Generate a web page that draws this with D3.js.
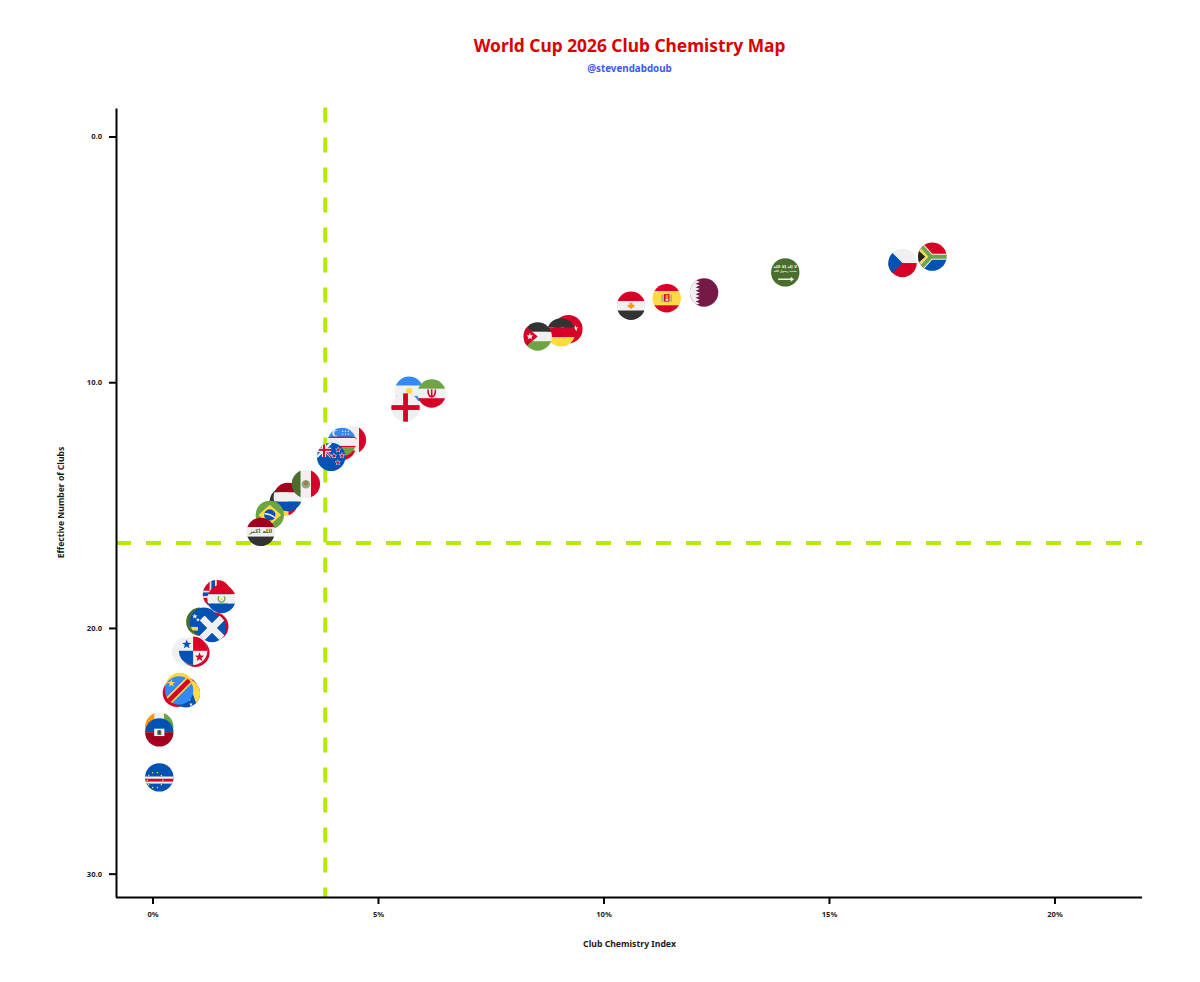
<!DOCTYPE html>
<html>
<head>
<meta charset="utf-8">
<title>World Cup 2026 Club Chemistry Map</title>
<script src="https://cdn.jsdelivr.net/npm/d3@7"></script>
<style>
  html, body { margin: 0; padding: 0; background: #fff; }
  svg { display: block; font-family: "Noto Sans", sans-serif; }
</style>
</head>
<body>
<svg id="chart" width="1200" height="982"></svg>
<script>
// Teams in drawing order: later entries sit on top of earlier ones.
const teams = ["Cape Verde","Ivory Coast","Haiti","Morocco","Ghana","Colombia","Bosnia","DR Congo",
  "South Korea","Switzerland","Panama","Tunisia","Algeria","Curacao","Scotland","Norway","Paraguay",
  "Belgium","Netherlands","Brazil","Iraq","Mexico","Canada","Austria","Uzbekistan","New Zealand",
  "Argentina","Iran","England","Turkey","Germany","Jordan","Egypt","Spain","Qatar","Saudi Arabia",
  "Czechia","South Africa"];
const chemistryIndex = [0.14,0.14,0.14,0.53,0.69,0.59,0.73,0.58,
  0.74,0.94,0.89,1.36,1.05,1.13,1.31,1.42,1.52,
  2.90,2.99,2.59,2.39,3.39,4.41,4.19,4.19,3.95,
  5.68,6.18,5.60,9.21,9.05,8.53,10.60,11.39,12.22,14.02,
  16.62,17.28];
const effectiveClubs = [26.08,24.02,24.25,22.64,22.56,22.40,22.66,22.54,
  20.97,21.01,20.93,19.94,19.75,19.75,20.00,18.63,18.82,
  14.87,14.67,15.40,16.09,14.14,12.35,12.59,12.43,13.04,
  10.35,10.46,11.03,7.84,7.97,8.14,6.89,6.58,6.35,5.53,
  5.15,4.89];
const xTicks = [0,5,10,15,20];
const yTicks = [0,10,20,30];
const medianChemistry = 3.82;
const medianClubs = 16.54;

const W = { left: 116, right: 1142, top: 108, bottom: 897 };
const svg = d3.select("#chart");

const x = d3.scaleLinear().domain([-0.82, 21.93]).range([W.left, W.right]);
const y = d3.scaleLinear().domain([-1.16, 30.95]).range([W.top, W.bottom]);

// Title block
svg.append("text").attr("x", 629.5).attr("y", 52).attr("text-anchor", "middle")
  .attr("font-size", 17.35).attr("font-weight", 700).attr("fill", "#d90000")
  .text("World Cup 2026 Club Chemistry Map");
svg.append("text").attr("x", 629.5).attr("y", 72).attr("text-anchor", "middle")
  .attr("font-size", 9.8).attr("font-weight", 700).attr("fill", "#3a5cf5")
  .text("@stevendabdoub");

// Axis titles
svg.append("text").attr("x", 629.5).attr("y", 947).attr("text-anchor", "middle")
  .attr("font-size", 8.7).attr("font-weight", 700).attr("fill", "#1a1a1a")
  .text("Club Chemistry Index");
svg.append("text").attr("transform", "translate(64,502.5) rotate(-90)").attr("text-anchor", "middle")
  .attr("font-size", 8.6).attr("font-weight", 700).attr("fill", "#1a1a1a")
  .text("Effective Number of Clubs");

// Median reference lines, below the flags
const refColor = "#b5e900";
svg.append("line").attr("x1", x(medianChemistry)).attr("x2", x(medianChemistry))
  .attr("y1", W.top - 0.5).attr("y2", W.bottom)
  .attr("stroke", refColor).attr("stroke-width", 4).attr("stroke-dasharray", "15 15");
svg.append("line").attr("x1", W.left).attr("x2", W.right)
  .attr("y1", y(medianClubs)).attr("y2", y(medianClubs))
  .attr("stroke", refColor).attr("stroke-width", 4).attr("stroke-dasharray", "15 15");

// Axes
function styleAxis(g) {
  g.selectAll("path,line").attr("stroke", "#000").attr("stroke-width", 2);
  g.selectAll("text").attr("font-family", '"Noto Sans", sans-serif')
    .attr("font-size", 7.6).attr("font-weight", 700).attr("fill", "#222");
}
svg.append("g").attr("transform", `translate(-0.5,${W.bottom})`)
  .call(d3.axisBottom(x).tickValues(xTicks).tickFormat(d => d + "%").tickSize(7).tickPadding(8).tickSizeOuter(0))
  .call(styleAxis);
svg.append("g").attr("transform", `translate(${W.left},0)`)
  .call(d3.axisLeft(y).tickValues(yTicks).tickFormat(d3.format(".1f")).tickSize(7).tickPadding(7).tickSizeOuter(0))
  .call(styleAxis);

// Flag palette
const C = { red: "#D80027", blue: "#0052B4", white: "#F0F0F0", green: "#6DA544", yellow: "#FFDA44",
  dark: "#333333", maroon: "#A2001D", sky: "#338AF3", orange: "#FF9811", wine: "#751A46", forest: "#496E2D" };

// Flag painting helpers; every flag is painted in a unit circle centred on the origin.
const rect = (g, x0, y0, w, h, fill) => g.append("rect").attr("x", x0).attr("y", y0).attr("width", w).attr("height", h).attr("fill", fill);
const disc = (g, cx, cy, r, fill) => g.append("circle").attr("cx", cx).attr("cy", cy).attr("r", r).attr("fill", fill);
const poly = (g, pts, fill) => g.append("polygon").attr("points", pts.map(p => p.join(",")).join(" ")).attr("fill", fill);
const stroke = (g, d, color, w) => g.append("path").attr("d", d).attr("fill", "none").attr("stroke", color).attr("stroke-width", w);
function hBands(g, colors, cuts) {
  const e = [-1.05, ...cuts, 1.05];
  colors.forEach((c, i) => rect(g, -1.05, e[i], 2.1, e[i + 1] - e[i], c));
}
function vBands(g, colors, cuts) {
  const e = [-1.05, ...cuts, 1.05];
  colors.forEach((c, i) => rect(g, e[i], -1.05, e[i + 1] - e[i], 2.1, c));
}
function star(g, cx, cy, r, fill) {
  const pts = d3.range(10).map(i => {
    const a = -Math.PI / 2 + i * Math.PI / 5, q = i % 2 ? r * 0.42 : r;
    return [cx + q * Math.cos(a), cy + q * Math.sin(a)];
  });
  return poly(g, pts, fill);
}
function script(g, cx, cy, txt, fill, size) {
  g.append("text").attr("transform", `translate(${cx},${cy}) scale(0.01)`)
    .attr("text-anchor", "middle").attr("dominant-baseline", "middle")
    .attr("font-family", '"DejaVu Sans", sans-serif').attr("font-weight", 700)
    .attr("font-size", size * 100).attr("fill", fill).text(txt);
}
const T3 = [-0.33, 0.33];

const flags = {
  "South Africa": g => {
    hBands(g, [C.red, C.blue], [0]);
    stroke(g, "M-1,-1 L-0.1,0 L-1,1 M-0.1,0 L1.05,0", C.white, 0.42);
    stroke(g, "M-1,-1 L-0.1,0 L-1,1 M-0.1,0 L1.05,0", C.green, 0.28);
    poly(g, [[-1.05, -0.7], [-0.28, 0], [-1.05, 0.7]], C.yellow);
    poly(g, [[-1.05, -0.5], [-0.5, 0], [-1.05, 0.5]], "#222");
  },
  "Czechia": g => {
    hBands(g, [C.white, C.red], [0]);
    poly(g, [[-1.05, -1.05], [0, 0], [-1.05, 1.05]], C.blue);
  },
  "Saudi Arabia": g => {
    rect(g, -1.05, -1.05, 2.1, 2.1, C.forest);
    script(g, 0, -0.4, "لا إله إلا الله", C.white, 0.28);
    script(g, 0, -0.05, "محمد رسول الله", C.white, 0.2);
    stroke(g, "M-0.5,0.48 L0.45,0.48", C.white, 0.1);
    poly(g, [[0.38, 0.3], [0.62, 0.48], [0.38, 0.66]], C.white);
  },
  "Qatar": g => {
    rect(g, -1.05, -1.05, 2.1, 2.1, C.wine);
    const teeth = [[-1.05, -1.05], [-0.35, -1.05]];
    d3.range(-1, 1, 0.25).forEach(v => { teeth.push([-0.6, v + 0.125], [-0.3, v + 0.25]); });
    teeth.push([-1.05, 1.05]);
    poly(g, teeth, C.white);
  },
  "Spain": g => {
    hBands(g, [C.red, C.yellow, C.red], [-0.5, 0.5]);
    rect(g, -0.2, -0.28, 0.4, 0.52, C.red);
    rect(g, -0.08, -0.22, 0.2, 0.2, C.orange);
    rect(g, -0.08, 0.02, 0.2, 0.16, C.white);
    rect(g, -0.36, -0.25, 0.09, 0.5, C.sky).attr("opacity", 0.6);
    rect(g, 0.27, -0.25, 0.09, 0.5, C.sky).attr("opacity", 0.6);
  },
  "Egypt": g => {
    hBands(g, [C.red, C.white, C.dark], T3);
    poly(g, [[-0.1, -0.22], [0.1, -0.22], [0.1, -0.08], [0.25, -0.08], [0.22, 0.1], [0.1, 0.12], [0, 0.25], [-0.1, 0.12], [-0.22, 0.1], [-0.25, -0.08], [-0.1, -0.08]], C.orange);
  },
  "Turkey": g => {
    rect(g, -1.05, -1.05, 2.1, 2.1, C.red);
    disc(g, -0.05, 0, 0.5, C.white);
    disc(g, 0.08, 0, 0.4, C.red);
    star(g, 0.5, -0.05, 0.22, C.white);
  },
  "Germany": g => hBands(g, [C.dark, C.red, C.yellow], T3),
  "Jordan": g => {
    hBands(g, [C.dark, C.white, C.green], T3);
    poly(g, [[-1.05, -0.9], [0, 0], [-1.05, 0.9]], C.red);
    star(g, -0.55, 0, 0.26, C.white);
  },
  "Iran": g => {
    hBands(g, [C.green, C.white, C.red], T3);
    stroke(g, "M-0.26,-0.28 Q-0.28,0.2 0,0.24 Q0.28,0.2 0.26,-0.28 M0,-0.3 L0,0.28", C.red, 0.11);
  },
  "Argentina": g => {
    hBands(g, [C.sky, C.white, C.sky], [-0.36, 0.36]);
    disc(g, 0, 0, 0.22, C.yellow);
  },
  "England": g => {
    rect(g, -1.05, -1.05, 2.1, 2.1, C.white);
    rect(g, -0.17, -1.05, 0.34, 2.1, C.red);
    rect(g, -1.05, -0.17, 2.1, 0.34, C.red);
  },
  "Canada": g => {
    vBands(g, [C.red, C.white, C.red], [-0.5, 0.5]);
    star(g, 0, 0, 0.4, C.red);
  },
  "Austria": g => hBands(g, [C.red, C.white, C.red], T3),
  "Uzbekistan": g => {
    hBands(g, [C.sky, C.red, C.white, C.red, C.green], [-0.36, -0.28, 0.28, 0.36]);
    disc(g, -0.45, -0.62, 0.22, C.white);
    disc(g, -0.36, -0.62, 0.18, C.sky);
    [[0.05, -0.75], [0.25, -0.75], [0.45, -0.75], [0.05, -0.55], [0.25, -0.55], [0.45, -0.55]]
      .forEach(p => disc(g, p[0], p[1], 0.05, C.white));
  },
  "New Zealand": g => {
    rect(g, -1.05, -1.05, 2.1, 2.1, C.blue);
    stroke(g, "M-1,-1 L0,0 M-1,0 L0,-1", C.white, 0.18);
    stroke(g, "M-1,-1 L0,0", C.red, 0.08);
    rect(g, -0.65, -1.05, 0.3, 1.05, C.white);
    rect(g, -1.05, -0.65, 1.05, 0.3, C.white);
    rect(g, -0.57, -1.05, 0.14, 1.05, C.red);
    rect(g, -1.05, -0.57, 1.05, 0.14, C.red);
    [[0.5, -0.5], [0.2, -0.08], [0.76, -0.1], [0.47, 0.4]].forEach(p => {
      star(g, p[0], p[1], 0.24, C.white);
      star(g, p[0], p[1], 0.16, C.red);
    });
  },
  "Mexico": g => {
    vBands(g, [C.forest, C.white, C.red], [-0.36, 0.36]);
    disc(g, 0, 0.02, 0.3, C.forest).attr("opacity", 0.55);
    disc(g, 0, -0.05, 0.17, "#A67B4B");
  },
  "Netherlands": g => hBands(g, [C.maroon, C.white, C.blue], T3),
  "Belgium": g => vBands(g, [C.dark, C.yellow, C.red], T3),
  "Brazil": g => {
    rect(g, -1.05, -1.05, 2.1, 2.1, C.green);
    poly(g, [[0, -0.72], [0.8, 0], [0, 0.72], [-0.8, 0]], C.yellow);
    disc(g, 0, 0, 0.4, C.blue);
    stroke(g, "M-0.38,-0.08 Q0,-0.1 0.36,0.18", C.white, 0.09);
  },
  "Iraq": g => {
    hBands(g, [C.maroon, C.white, C.dark], T3);
    script(g, 0, 0, "الله اكبر", C.forest, 0.4);
  },
  "Norway": g => {
    rect(g, -1.05, -1.05, 2.1, 2.1, C.red);
    rect(g, -0.52, -1.05, 0.5, 2.1, C.white);
    rect(g, -1.05, -0.25, 2.1, 0.5, C.white);
    rect(g, -0.4, -1.05, 0.26, 2.1, C.blue);
    rect(g, -1.05, -0.13, 2.1, 0.26, C.blue);
  },
  "Paraguay": g => {
    hBands(g, [C.red, C.white, C.blue], T3);
    stroke(g, "M0.16,-0.2 A0.24,0.24 0 1 1 -0.16,-0.2", C.green, 0.09);
    disc(g, 0, 0.02, 0.08, C.yellow);
  },
  "Tunisia": g => {
    rect(g, -1.05, -1.05, 2.1, 2.1, C.red);
    disc(g, 0, 0, 0.45, C.white);
    disc(g, 0.02, 0, 0.28, C.red);
    disc(g, 0.1, 0, 0.22, C.white);
  },
  "Algeria": g => {
    vBands(g, [C.forest, C.white], [0]);
    disc(g, 0, 0, 0.42, C.red);
    disc(g, 0.1, 0, 0.33, C.white);
  },
  "Curacao": g => {
    rect(g, -1.05, -1.05, 2.1, 2.1, C.blue);
    rect(g, -1.05, 0.36, 2.1, 0.26, C.yellow);
    star(g, -0.64, -0.38, 0.2, C.white);
    star(g, -0.42, -0.14, 0.15, C.white);
  },
  "Scotland": g => {
    rect(g, -1.05, -1.05, 2.1, 2.1, C.blue);
    stroke(g, "M-1,-1 L1,1 M-1,1 L1,-1", C.white, 0.48);
  },
  "South Korea": g => {
    rect(g, -1.05, -1.05, 2.1, 2.1, C.white);
    disc(g, 0, 0, 0.4, C.red);
  },
  "Switzerland": g => {
    rect(g, -1.05, -1.05, 2.1, 2.1, C.red);
    rect(g, -0.15, -0.55, 0.3, 1.1, C.white);
    rect(g, -0.55, -0.15, 1.1, 0.3, C.white);
  },
  "Panama": g => {
    rect(g, -1.05, -1.05, 2.1, 2.1, C.white);
    rect(g, 0, -1.05, 1.05, 1.05, C.red);
    rect(g, -1.05, 0, 1.05, 1.05, C.blue);
    star(g, -0.45, -0.45, 0.34, C.blue);
    star(g, 0.45, 0.45, 0.34, C.red);
  },
  "Morocco": g => {
    rect(g, -1.05, -1.05, 2.1, 2.1, C.red);
    star(g, 0, 0.05, 0.8, C.forest);
  },
  "Ghana": g => {
    hBands(g, [C.red, C.yellow, C.forest], T3);
    star(g, 0, 0, 0.3, C.dark);
  },
  "Colombia": g => hBands(g, [C.yellow, C.blue, C.red], [0, 0.5]),
  "Bosnia": g => {
    rect(g, -1.05, -1.05, 2.1, 2.1, C.blue);
    poly(g, [[0.1, -1.1], [1.1, -1.1], [1.1, 1.1], [0.85, 1.1]], C.yellow);
    [[-0.2, -0.7], [-0.05, -0.28], [0.1, 0.14], [0.22, 0.45], [0.36, 0.78]]
      .forEach(p => star(g, p[0], p[1], 0.14, C.white));
  },
  "DR Congo": g => {
    rect(g, -1.05, -1.05, 2.1, 2.1, C.sky);
    stroke(g, "M-1,1 L1,-1", C.yellow, 0.56);
    stroke(g, "M-1,1 L1,-1", C.red, 0.32);
    star(g, -0.55, -0.5, 0.28, C.yellow);
  },
  "Ivory Coast": g => vBands(g, [C.orange, C.white, C.green], T3),
  "Haiti": g => {
    hBands(g, [C.blue, C.maroon], [0]);
    rect(g, -0.36, -0.26, 0.72, 0.52, C.white);
    rect(g, -0.14, -0.14, 0.28, 0.32, C.forest);
    rect(g, -0.06, -0.14, 0.12, 0.24, C.blue);
  },
  "Cape Verde": g => {
    rect(g, -1.05, -1.05, 2.1, 2.1, C.blue);
    rect(g, -1.05, -0.06, 2.1, 0.5, C.white);
    rect(g, -1.05, 0.1, 2.1, 0.2, C.red);
    d3.range(10).forEach(i => {
      const a = i * Math.PI / 5;
      disc(g, -0.3 + 0.55 * Math.cos(a), 0.2 + 0.55 * Math.sin(a), 0.055, C.yellow);
    });
  }
};

// Flag markers: one clipped disc per team, positioned through the scales
const flagRadius = 14.2;
svg.append("defs").append("clipPath").attr("id", "flag-clip")
  .append("circle").attr("r", 1);

svg.append("g").selectAll("g").data(teams).join("g")
  .attr("transform", (d, i) => `translate(${x(chemistryIndex[i])},${y(effectiveClubs[i])}) scale(${flagRadius})`)
  .append("g").attr("clip-path", "url(#flag-clip)")
  .each(function (d) { flags[d](d3.select(this)); });
</script>
</body>
</html>
